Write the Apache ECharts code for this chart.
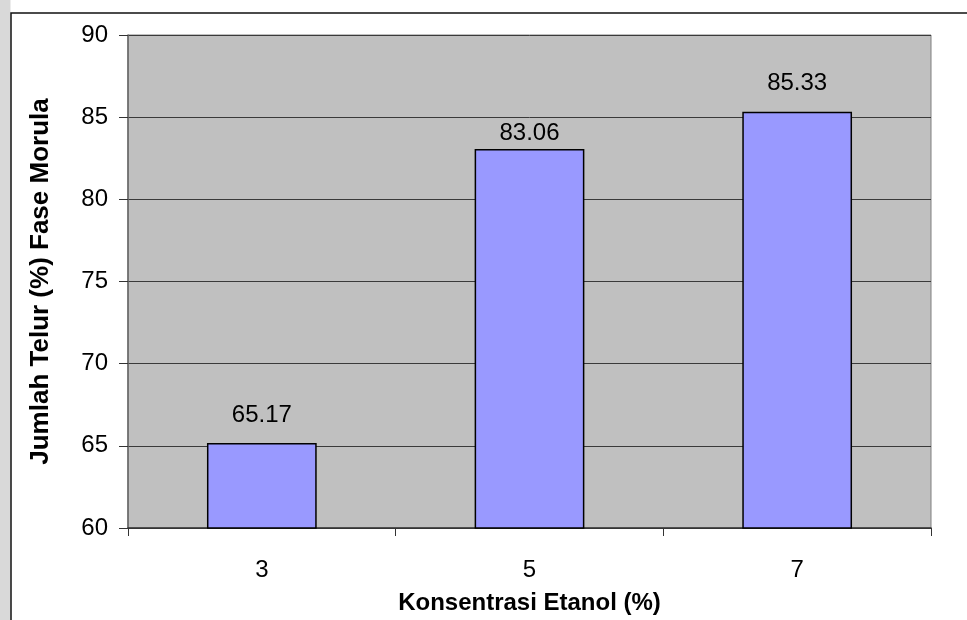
<!DOCTYPE html>
<html>
<head>
<meta charset="utf-8">
<script src="https://cdn.jsdelivr.net/npm/echarts@6/dist/echarts.min.js"></script>
<style>
  html, body { margin: 0; padding: 0; background: #ffffff; }
  #chart { width: 967px; height: 620px; }
</style>
</head>
<body>
<div id="chart"></div>
<script>
// Egg counts (%) reaching the morula stage at each ethanol concentration
const categories = ['3', '5', '7'];
const values = [65.17, 83.06, 85.33];
const yTicks = { min: 60, max: 90, step: 5 };

const FONT = '"Liberation Sans", Arial, sans-serif';

// the middle label sits tighter to its bar so it stays clear of the 85 gridline
const labelGap = i => (i === 1 ? 4 : 16);

const chart = echarts.init(document.getElementById('chart'), null, { renderer: 'canvas' });

chart.setOption({
  backgroundColor: '#ffffff',
  animation: false,
  textStyle: { fontFamily: FONT },
  graphic: [
    { type: 'rect', silent: true, z: -10,
      shape: { x: 0, y: 0, width: 10.5, height: 620 },
      style: { fill: '#d9d9d9' } },
    { type: 'rect', silent: true, z: -5,
      shape: { x: 11, y: 13, width: 980, height: 640 },
      style: { fill: 'none', stroke: '#111111', lineWidth: 1.5 } }
  ],
  grid: {
    left: 128, top: 35, width: 803, height: 493,
    containLabel: false,
    outerBoundsMode: 'none',
    show: true, backgroundColor: '#c0c0c0',
    borderColor: '#808080', borderWidth: 1
  },
  xAxis: {
    type: 'category',
    data: categories,
    boundaryGap: true,
    name: 'Konsentrasi Etanol (%)',
    nameLocation: 'middle',
    nameGap: 63,
    nameTextStyle: { fontFamily: FONT, fontSize: 24, fontWeight: 'bold', color: '#000' },
    axisLine: { lineStyle: { color: '#333333', width: 1.5 } },
    axisTick: { show: true, alignWithLabel: false, interval: 0, length: 8, lineStyle: { color: '#333333' } },
    axisLabel: { fontFamily: FONT, fontSize: 24, color: '#000', margin: 30 },
    splitLine: { show: false }
  },
  yAxis: {
    type: 'value',
    min: yTicks.min, max: yTicks.max, interval: yTicks.step,
    name: 'Jumlah Telur (%) Fase Morula',
    nameLocation: 'middle',
    nameGap: 74,
    nameRotate: 90,
    nameTextStyle: { fontFamily: FONT, fontSize: 26, fontWeight: 'bold', color: '#000' },
    axisLine: { show: true, lineStyle: { color: '#666666', width: 1.5 } },
    axisTick: { show: true, length: 9, lineStyle: { color: '#333333' } },
    axisLabel: { fontFamily: FONT, fontSize: 24, color: '#000', margin: 20 },
    splitLine: { show: true, lineStyle: { color: '#3a3a3a', width: 1 } }
  },
  series: [{
    type: 'bar',
    data: values.map((v, i) => ({ value: v, label: { distance: labelGap(i) } })),
    barWidth: '41%',
    itemStyle: { color: '#9999ff', borderColor: '#000000', borderWidth: 1.5 },
    label: {
      show: true, position: 'top', distance: 16,
      fontFamily: FONT, fontSize: 24, color: '#000',
      formatter: p => p.value.toFixed(2)
    }
  }]
});
</script>
</body>
</html>
